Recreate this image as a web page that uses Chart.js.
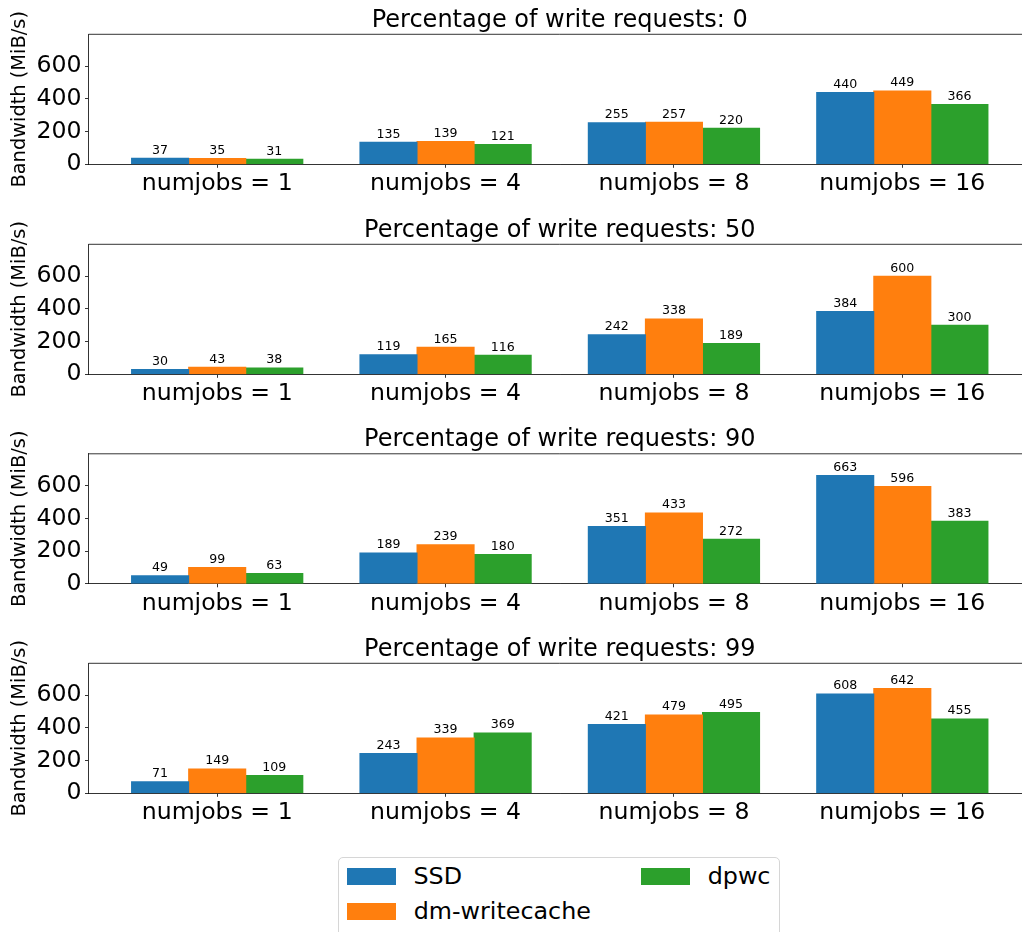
<!DOCTYPE html>
<html><head><meta charset="utf-8">
<script src="https://cdn.jsdelivr.net/npm/chart.js@4.4.1/dist/chart.umd.min.js"></script>
<style>
html,body{margin:0;padding:0;background:#fff;}
#wrap{position:relative;width:1022px;height:932px;overflow:hidden;background:#fff;}
canvas{position:absolute;left:0;}
#legend{position:absolute;left:338px;top:856.5px;width:442px;height:110px;border:1px solid #d6d6d6;border-radius:5px;box-sizing:border-box;}
.sw{position:absolute;width:49px;height:17px;}
.lt{position:absolute;white-space:nowrap;line-height:1;font-family:'DejaVu Sans';font-size:23.8px;color:#000;}
</style></head><body><div id="wrap">
<canvas id="c0" width="1040" height="210" style="top:0px"></canvas>
<canvas id="c1" width="1040" height="210" style="top:210px"></canvas>
<canvas id="c2" width="1040" height="210" style="top:420px"></canvas>
<canvas id="c3" width="1040" height="210" style="top:629px"></canvas>
<div id="legend"></div>
<div id="legendItems"></div>
</div>
<script>
const categories = ['numjobs = 1', 'numjobs = 4', 'numjobs = 8', 'numjobs = 16'];
const writePercents = [0, 50, 90, 99];
const yTicks = [0, 200, 400, 600];
const seriesNames = ['SSD', 'dm-writecache', 'dpwc'];
const ssd = [[37, 135, 255, 440], [30, 119, 242, 384], [49, 189, 351, 663], [71, 243, 421, 608]];
const dmWritecache = [[35, 139, 257, 449], [43, 165, 338, 600], [99, 239, 433, 596], [149, 339, 479, 642]];
const dpwc = [[31, 121, 220, 366], [38, 116, 189, 300], [63, 180, 272, 383], [109, 369, 495, 455]];
const colors = ['#1f77b4', '#ff7f0e', '#2ca02c'];
const yMax = 795.6;

const panelPadTop = [34.3, 34.3, 33.8, 34.3];
const plotHeight = 130;
const FONT = 'DejaVu Sans';
Chart.defaults.font.family = FONT;
Chart.defaults.color = '#000';

const spinePlugin = {
  id: 'spineTitle',
  afterDraw(chart) {
    const {ctx, chartArea} = chart;
    ctx.save();
    ctx.strokeStyle = '#000';
    ctx.lineWidth = 0.8;
    ctx.beginPath();
    ctx.moveTo(chartArea.left, chartArea.top);
    ctx.lineTo(chartArea.right, chartArea.top);
    ctx.stroke();
    ctx.fillStyle = '#000';
    ctx.font = '24px "' + FONT + '"';
    ctx.textAlign = 'center';
    ctx.textBaseline = 'alphabetic';
    ctx.fillText(chart.options.plugins.spineTitle.text, (chartArea.left + chartArea.right) / 2, chartArea.top - 7.5);
    // bar labels
    ctx.font = '12.6px "' + FONT + '"';
    chart.data.datasets.forEach((ds, di) => {
      const meta = chart.getDatasetMeta(di);
      meta.data.forEach((bar, i) => {
        ctx.fillText(String(ds.data[i].y), bar.x, bar.y - 4.7);
      });
    });
    ctx.restore();
  }
};

const seriesData = [ssd, dmWritecache, dpwc];
for (let p = 0; p < 4; p++) {
  const pad = panelPadTop[p];
  const xH = 210 - pad - plotHeight;
  new Chart(document.getElementById('c' + p), {
    type: 'bar',
    data: {
      datasets: seriesNames.map((name, s) => ({
        label: name,
        data: seriesData[s][p].map((v, i) => ({x: i, y: v})),
        backgroundColor: colors[s],
        borderWidth: 0,
        inflateAmount: 0.5,
        categoryPercentage: 0.75,
        barPercentage: 1.0
      }))
    },
    options: {
      responsive: false,
      animation: false,
      devicePixelRatio: 1,
      layout: {padding: {left: 0, right: 9, top: pad, bottom: 0}},
      plugins: {
        legend: {display: false},
        tooltip: {enabled: false},
        title: {display: false},
        spineTitle: {text: 'Percentage of write requests: ' + writePercents[p]}
      },
      scales: {
        x: {
          type: 'linear',
          min: -0.5635,
          max: 3.5635,
          offset: false,
          afterBuildTicks: s => { s.ticks = categories.map((c, i) => ({value: i})); },
          afterFit: s => { s.height = xH; },
          ticks: {
            callback: (v, i) => categories[i],
            font: {size: 23.6},
            color: '#000',
            padding: 2.3,
            maxRotation: 0,
            autoSkip: false
          },
          grid: {offset: false, drawOnChartArea: false, drawTicks: true, tickLength: 3.5, tickColor: '#000', tickWidth: 0.8, color: '#000'},
          border: {display: true, color: '#000', width: 0.8}
        },
        y: {
          min: 0,
          max: yMax,
          afterBuildTicks: s => { s.ticks = yTicks.map(v => ({value: v})); },
          afterFit: s => { s.width = 88.5; },
          ticks: {font: {size: 23.6}, color: '#000', padding: 3.5},
          grid: {drawOnChartArea: false, drawTicks: true, tickLength: 3.5, tickColor: '#000', tickWidth: 0.8, color: '#000'},
          border: {display: true, color: '#000', width: 0.8},
          title: {display: true, text: 'Bandwidth (MiB/s)', font: {size: 19.4}, color: '#000', padding: {top: 8.3, bottom: 0}}
        }
      }
    },
    plugins: [spinePlugin]
  });
}

// legend
const legendPos = [
  {sx: 347, sy: 868, tx: 413.5, ty: 865},
  {sx: 347, sy: 902.7, tx: 413.7, ty: 900},
  {sx: 641, sy: 868, tx: 707.7, ty: 865}
];
const li = document.getElementById('legendItems');
seriesNames.forEach((name, s) => {
  const p = legendPos[s];
  const sw = document.createElement('div');
  sw.className = 'sw';
  sw.style.left = p.sx + 'px';
  sw.style.top = p.sy + 'px';
  sw.style.background = colors[s];
  li.appendChild(sw);
  const t = document.createElement('div');
  t.className = 'lt';
  t.style.left = p.tx + 'px';
  t.style.top = p.ty + 'px';
  t.textContent = name;
  li.appendChild(t);
});
</script>
</body></html>
